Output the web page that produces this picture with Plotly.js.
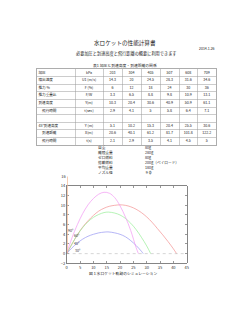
<!DOCTYPE html>
<html><head><meta charset="utf-8">
<script src="https://cdn.plot.ly/plotly-3.0.1.min.js"></script>
<style>html,body{margin:0;padding:0;background:#fff}#c{width:250px;height:323px}</style>
</head><body><div id="c"></div>
<script>
// ---- table data ----
const pressure = [203, 304, 405, 507, 608, 709];
const jetSpeed = [14.3, 20, 24.5, 28.3, 31.6, 34.6];
const thrustPct = [6, 12, 18, 24, 30, 36];
const thrustWeight = [3.3, 6.5, 8.8, 9.8, 10.9, 13.1];
const vertHeight = [10.3, 20.4, 30.6, 40.9, 50.9, 61.1];
const vertTime = [2.9, 4.1, 5, 5.8, 6.4, 7.1];
const h45 = [5.1, 10.2, 15.3, 20.4, 25.5, 30.6];
const d45 = [20.6, 40.1, 61.2, 81.7, 101.8, 122.2];
const t45 = [2.1, 2.9, 3.5, 4.1, 4.5, 5];
const rowLabels = ['加圧', '噴出速度', '推力 %', '推力重量比', '到達高度', '　飛行時間', '', '45°到達高度', '　到達距離', '　飛行時間'];
const rowUnits = ['kPa', 'U1 (m/s)', 'F (%)', 'F/W', 'Y(m)', 't(sec)', '', 'Y (m)', 'X(m)', 't(s)'];

// ---- specification list ----
const specLabels = ['自重', '離陸重量', 'ゼロ燃料', '搭載燃料', '平均重量', 'ノズル径'];
const specValues = ['80g', '280g', '80g', '200g（ペイロード）', '180g', ' 9 φ'];

// ---- trajectories (x: distance m, y: height m) ----
const angleLabels = ['90°', '60°', '45°', '30°'];
const traj90x = [0.3, 0.3, 0.3];
const traj90y = [0, 8, 16];
const traj60x = [0, 1, 2, 4, 6, 8, 10, 12, 14, 16, 18, 20, 22, 24, 26, 26.9];
const traj60y = [0, 1.7, 3.3, 6.0, 8.3, 10.1, 11.4, 12.3, 12.7, 12.5, 11.6, 9.9, 7.6, 4.8, 1.3, 0];
const trajRedx = [0, 2, 4, 6, 8, 10, 12, 14, 16, 18, 20, 22, 24, 26, 28, 30, 32, 34, 36, 38, 40, 41.2];
const trajRedy = [0, 2.0, 3.9, 5.5, 6.8, 7.9, 8.8, 9.4, 9.8, 10.0, 10.1, 10.0, 9.7, 9.2, 8.5, 7.6, 6.5, 5.2, 3.9, 2.5, 1.0, 0];
const trajGreenx = [0, 2, 4, 6, 8, 10, 12, 14, 15.6, 18, 20, 22, 24, 26, 28, 30, 31.5];
const trajGreeny = [0, 2.0, 3.9, 5.4, 6.6, 7.5, 8.1, 8.5, 8.6, 8.4, 8.0, 7.3, 6.3, 5.0, 3.4, 1.6, 0];
const trajBluex = [0, 2, 4, 6, 8, 10, 12, 14, 15.5, 18, 20, 22, 24, 26, 28, 28.7];
const trajBluey = [0, 1.2, 2.2, 3.0, 3.6, 4.0, 4.3, 4.45, 4.5, 4.3, 4.0, 3.5, 2.7, 1.7, 0.5, 0];

// ---- layout helpers (positions only) ----
const W = 250, H = 323;
const px = v => v / W, py = v => 1 - v / H;
const FONT = 'Noto Sans CJK JP, Noto Sans, sans-serif';
const colEdges = [37, 75, 103, 122, 141, 160, 179, 197.5, 216];
const colCenter = i => (colEdges[i] + colEdges[i + 1]) / 2;

// table rows assembled from the named arrays
const valueRows = [pressure, jetSpeed, thrustPct, thrustWeight, vertHeight, vertTime, null, h45, d45, t45];
const cellX = [], cellY = [], cellT = [];
valueRows.forEach((row, r) => {
  if (!row) return;
  row.forEach((v, c) => { cellX.push(colCenter(c + 2)); cellY.push(r + 0.5); cellT.push(String(v)); });
});
const rowIdx = rowLabels.map((_, r) => r + 0.5);

const tfont = {family: FONT, size: 3.6, color: '#222'};
const traces = [
  {type: 'scatter', mode: 'text', xaxis: 'x3', yaxis: 'y3', x: rowLabels.map(() => colEdges[0] + 1.5), y: rowIdx,
   text: rowLabels, textposition: 'middle right', textfont: tfont, hoverinfo: 'skip', cliponaxis: false},
  {type: 'scatter', mode: 'text', xaxis: 'x3', yaxis: 'y3', x: rowUnits.map(() => colCenter(1)), y: rowIdx,
   text: rowUnits, textposition: 'middle center', textfont: tfont, hoverinfo: 'skip', cliponaxis: false},
  {type: 'scatter', mode: 'text', xaxis: 'x3', yaxis: 'y3', x: cellX, y: cellY,
   text: cellT, textposition: 'middle center', textfont: tfont, hoverinfo: 'skip', cliponaxis: false},
  // trajectories
  {type: 'scatter', mode: 'lines', x: trajRedx, y: trajRedy, line: {color: '#f49090', width: 0.7, shape: 'spline'}},
  {type: 'scatter', mode: 'lines', x: trajGreenx, y: trajGreeny, line: {color: '#96ee96', width: 0.7, shape: 'spline'}},
  {type: 'scatter', mode: 'lines', x: trajBluex, y: trajBluey, line: {color: '#9696f2', width: 0.7, shape: 'spline'}},
  {type: 'scatter', mode: 'lines', x: traj60x, y: traj60y, line: {color: '#f296f2', width: 0.7, shape: 'spline'}},
  {type: 'scatter', mode: 'lines', x: traj90x, y: traj90y, yaxis: 'y2', line: {color: '#f5b890', width: 0.7}}
];

const axStyle = {
  ticks: 'inside', ticklen: 2, tickwidth: 0.5, tickcolor: '#333',
  showline: true, linewidth: 0.6, linecolor: '#333', mirror: 'ticks',
  showgrid: false, zeroline: false, tickfont: {family: FONT, size: 4, color: '#333'}
};
const gridAx = {
  showgrid: true, gridcolor: '#999', gridwidth: 0.5, showticklabels: false, ticks: '',
  zeroline: false, showline: true, linecolor: '#777', linewidth: 0.6, mirror: true, fixedrange: true
};

const labelPos = [[1.6, 4.8], [3.75, 3.7], [3.75, 2.0], [4.35, 0.65]];
const ann = [];
const addText = (t, x, y, size, anchor) => ann.push({text: t, x: px(x), y: py(y), xref: 'paper', yref: 'paper',
  showarrow: false, xanchor: anchor || 'center', yanchor: 'middle', font: {family: FONT, size: size, color: '#222'}});
addText('水ロケットの性能計算書', 125, 43, 5.6);
addText('2014.1.26', 206.5, 49, 3.5);
addText('必要加圧と到達高度と飛行距離の概要に利用できます', 126.5, 53.5, 4.2);
addText('表1 加圧と到達高度・到達距離の関係', 125, 65, 3.8);
const specY = [147.5, 152.5, 157.3, 162.3, 167.5, 172.7];
specLabels.forEach((s, i) => { addText(s, 96, specY[i], 3.7, 'left'); addText(specValues[i], 142.5, specY[i], 3.7, 'left'); });
addText('図 1 水ロケット軌跡のシミュレーション', 123, 273, 3.8);
angleLabels.forEach((t, i) => ann.push({text: t, x: labelPos[i][0], y: labelPos[i][1], xref: 'x', yref: 'y',
  showarrow: false, font: {family: FONT, size: 3.5, color: '#333'}}));

const layout = {
  width: W, height: H, autosize: false, margin: {l: 0, r: 0, t: 0, b: 0},
  paper_bgcolor: '#fff', plot_bgcolor: 'rgba(0,0,0,0)', showlegend: false,
  xaxis: Object.assign({}, axStyle, {domain: [px(66.7), px(186.7)], range: [0, 45], dtick: 5, tick0: 0, anchor: 'y'}),
  yaxis: Object.assign({}, axStyle, {domain: [py(263.3), py(186)], range: [-2, 14], dtick: 2, tick0: -2, anchor: 'x'}),
  yaxis2: {domain: [py(263.3), py(176.3)], range: [-2, 16], tickvals: [16], ticks: '', showline: false, showgrid: false,
    zeroline: false, anchor: 'x', tickfont: {family: FONT, size: 4, color: '#333'}},
  xaxis3: Object.assign({}, gridAx, {domain: [px(37), px(216)], range: [37, 216], tickvals: colEdges, anchor: 'y3'}),
  yaxis3: Object.assign({}, gridAx, {domain: [py(145), py(69)], range: [10, 0], tickvals: [0,1,2,3,4,5,6,7,8,9,10], anchor: 'x3'}),
  shapes: [{type: 'line', xref: 'x', yref: 'y', x0: 0, x1: 45, y0: 0, y1: 0, line: {color: '#bbb', width: 0.6, dash: 'dot'}}],
  annotations: ann
};
Plotly.newPlot('c', traces, layout, {staticPlot: true, displayModeBar: false});
</script></body></html>
